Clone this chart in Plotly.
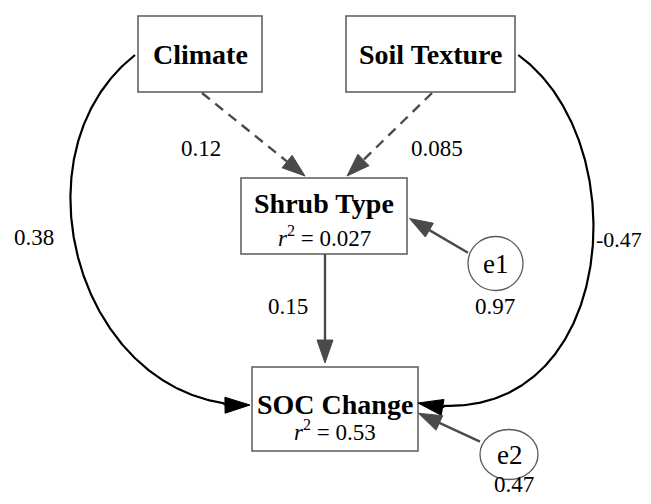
import numpy as np
import plotly.graph_objects as go

# ---------------- data ----------------
box_labels = ["Climate", "Soil Texture", "Shrub Type", "SOC Change"]
box_r2 = [None, None, 0.027, 0.53]
path_from = ["Climate", "Soil Texture", "Climate", "Soil Texture", "Shrub Type"]
path_to = ["Shrub Type", "Shrub Type", "SOC Change", "SOC Change", "SOC Change"]
path_coef = [0.12, 0.085, 0.38, -0.47, 0.15]
path_significant = [False, False, True, True, True]
error_labels = ["e1", "e2"]
error_targets = ["Shrub Type", "SOC Change"]
error_var = [0.97, 0.47]

# ---------------- layout (pixel geometry, page coordinates) ----------------
W, H = 651, 504
OFFSET = 8  # page body margin in the browser
FIG_W, FIG_H = W - 2 * OFFSET, H - 2 * OFFSET
box_geom = {  # x0, y0, x1, y1
    "Climate": (138, 16, 262, 92),
    "Soil Texture": (346, 16, 515, 92),
    "Shrub Type": (241, 178, 407, 254),
    "SOC Change": (252, 367, 418, 451),
}
title_y = {"Climate": 54, "Soil Texture": 54, "Shrub Type": 203, "SOC Change": 404}
r2_y = {"Shrub Type": 236, "SOC Change": 430}

err_geom = {"e1": (495.5, 263.5, 27.5, 27), "e2": (509, 454.5, 29, 25)}
err_val_pos = {"e1": (494.5, 306), "e2": (514, 484.5)}

# straight arrows: start, tip ; label position
straight = {
    0: ((202, 93), (305, 176), (201, 148)),
    1: ((432, 93), (347, 176), (437, 148)),
    4: ((325, 254), (325, 363), (288, 306)),
}
err_arrow = {"e1": ((468, 252.7), (409.5, 218.5)), "e2": ((480, 441.7), (418.5, 413.3))}

# curved arrows: waypoints along curve (ending at arrow tip), label position
curved = {
    2: ([(135, 55), (113.3, 73.3), (96.7, 96.7), (83.3, 126.7), (75, 156.7), (71.7, 190),
         (72, 222), (76.7, 253), (86.7, 286.7), (103.3, 320), (130, 353), (163, 380),
         (200, 396.7), (250, 405)], (34, 237)),
    3: ([(518.3, 55), (543.3, 73.3), (560, 96.7), (574, 130), (583, 163), (589, 197),
         (593, 230), (591.7, 253), (586.7, 286.7), (576.7, 320), (560, 353), (533, 380),
         (493, 396.7), (418, 403)], (619, 239)),
}
label_size = {3: 22}

GRAY = "#4a4a4a"
BOXLINE = "#5a5a5a"
FONT = "Liberation Serif, Times New Roman, serif"

fig = go.Figure()
shapes = []
annotations = []


def arrowhead(tip, d, L=23, hw=8, color=GRAY):
    tip = np.asarray(tip, float)
    d = np.asarray(d, float)
    d = d / np.hypot(*d)
    n = np.array([-d[1], d[0]])
    base = tip - L * d
    p1 = base + hw * n
    p2 = base - hw * n
    path = f"M {tip[0]:.2f},{tip[1]:.2f} L {p1[0]:.2f},{p1[1]:.2f} L {p2[0]:.2f},{p2[1]:.2f} Z"
    shapes.append(dict(type="path", path=path, fillcolor=color, line=dict(color=color, width=1),
                       xref="x", yref="y", layer="above"))
    return base


def bezier_fit(pts):
    pts = np.asarray(pts, float)
    d = np.r_[0, np.cumsum(np.hypot(*np.diff(pts, axis=0).T))]
    t = d / d[-1]
    P0, P3 = pts[0], pts[-1]
    b0 = (1 - t) ** 3
    b1 = 3 * (1 - t) ** 2 * t
    b2 = 3 * (1 - t) * t ** 2
    b3 = t ** 3
    A = np.c_[b1, b2]
    R = pts - np.outer(b0, P0) - np.outer(b3, P3)
    C = np.linalg.lstsq(A, R, rcond=None)[0]
    P1, P2 = C
    tt = np.linspace(0, 1, 300)[:, None]
    curve = ((1 - tt) ** 3) * P0 + 3 * ((1 - tt) ** 2) * tt * P1 + 3 * (1 - tt) * tt ** 2 * P2 + tt ** 3 * P3
    return curve, P3 - P2


# boxes
for name in box_labels:
    x0, y0, x1, y1 = box_geom[name]
    shapes.append(dict(type="rect", x0=x0, y0=y0, x1=x1, y1=y1, xref="x", yref="y",
                       line=dict(color=BOXLINE, width=1.5), fillcolor="white", layer="below"))
    cx = (x0 + x1) / 2
    annotations.append(dict(x=cx, y=title_y[name], text=f"<b>{name}</b>", showarrow=False,
                            font=dict(family=FONT, size=28, color="black"),
                            xanchor="center", yanchor="middle"))
for name, r2 in zip(box_labels, box_r2):
    if r2 is None:
        continue
    x0, y0, x1, y1 = box_geom[name]
    annotations.append(dict(x=(x0 + x1) / 2, y=r2_y[name],
                            text=f"<i>r</i><sup>2</sup> = {r2}", showarrow=False,
                            font=dict(family=FONT, size=23, color="black"),
                            xanchor="center", yanchor="middle"))

# straight paths
for i, (s, tip, lab) in straight.items():
    d = np.subtract(tip, s)
    base = arrowhead(tip, d)
    dash = "solid" if path_significant[i] else "10px,7px"
    fig.add_trace(go.Scatter(x=[s[0], base[0]], y=[s[1], base[1]], mode="lines",
                             line=dict(color=GRAY, width=2.4, dash=dash),
                             hoverinfo="skip", showlegend=False))
    annotations.append(dict(x=lab[0], y=lab[1], text=str(path_coef[i]), showarrow=False,
                            font=dict(family=FONT, size=23, color="black"),
                            xanchor="center", yanchor="middle"))

# curved paths
for i, (pts, lab) in curved.items():
    curve, d = bezier_fit(pts)
    tip = curve[-1]
    L = 25
    base = arrowhead(tip, d, L=L, hw=8, color="black")
    keep = np.hypot(*(curve - tip).T) > L
    c = np.vstack([curve[keep], base])
    fig.add_trace(go.Scatter(x=c[:, 0], y=c[:, 1], mode="lines",
                             line=dict(color="black", width=2.2),
                             hoverinfo="skip", showlegend=False))
    annotations.append(dict(x=lab[0], y=lab[1], text=str(path_coef[i]), showarrow=False,
                            font=dict(family=FONT, size=label_size.get(i, 23), color="black"),
                            xanchor="center", yanchor="middle"))

# error terms
for lab, tgt, v in zip(error_labels, error_targets, error_var):
    cx, cy, rx, ry = err_geom[lab]
    shapes.append(dict(type="circle", x0=cx - rx, x1=cx + rx, y0=cy - ry, y1=cy + ry,
                       xref="x", yref="y", line=dict(color=BOXLINE, width=1.3), fillcolor="white"))
    annotations.append(dict(x=cx, y=cy, text=lab, showarrow=False,
                            font=dict(family=FONT, size=27, color="black"),
                            xanchor="center", yanchor="middle"))
    s, tip = err_arrow[lab]
    base = arrowhead(tip, np.subtract(tip, s))
    fig.add_trace(go.Scatter(x=[s[0], base[0]], y=[s[1], base[1]], mode="lines",
                             line=dict(color=GRAY, width=2.4),
                             hoverinfo="skip", showlegend=False))
    px_, py_ = err_val_pos[lab]
    annotations.append(dict(x=px_, y=py_, text=str(v), showarrow=False,
                            font=dict(family=FONT, size=23, color="black"),
                            xanchor="center", yanchor="middle"))

fig.update_layout(
    width=FIG_W, height=FIG_H,
    margin=dict(l=0, r=0, t=0, b=0),
    paper_bgcolor="white", plot_bgcolor="white",
    xaxis=dict(range=[OFFSET, OFFSET + FIG_W], visible=False, fixedrange=True),
    yaxis=dict(range=[OFFSET + FIG_H, OFFSET], visible=False, fixedrange=True),
    shapes=shapes, annotations=annotations,
)
fig.write_html("out.html")
